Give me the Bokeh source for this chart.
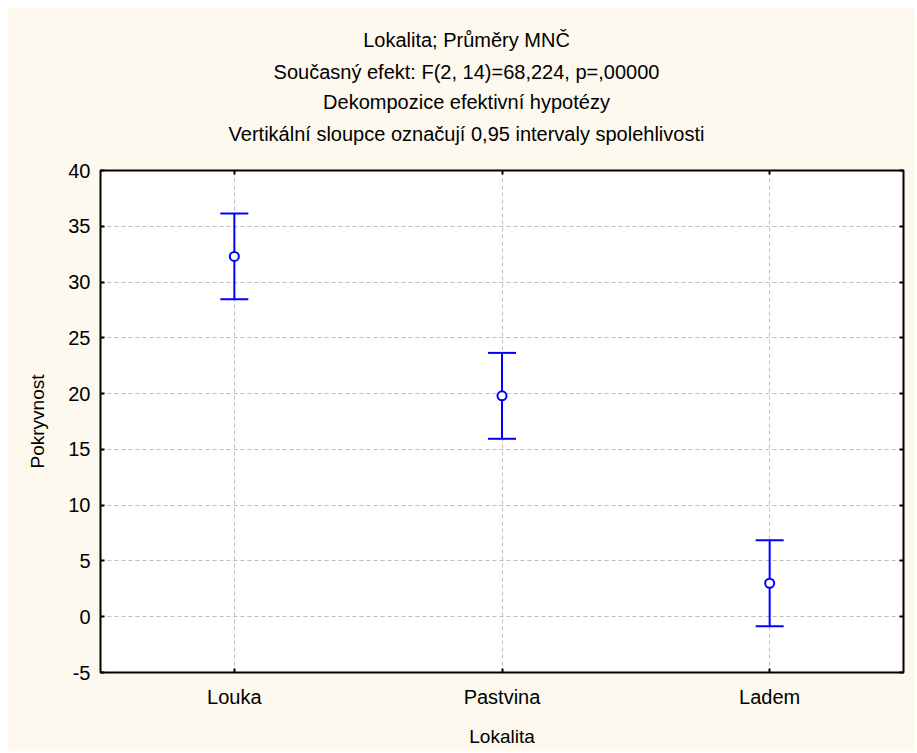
from bokeh.plotting import figure
from bokeh.layouts import column
from bokeh.models import (FactorRange, Range1d, Whisker, ColumnDataSource,
                          LinearAxis, CategoricalAxis, FixedTicker)
from bokeh.core.properties import value
from bokeh.embed import file_html
from bokeh.resources import INLINE

categories = ["Louka", "Pastvina", "Ladem"]
means = [32.3, 19.8, 3.0]
lower = [28.45, 15.95, -0.85]
upper = [36.15, 23.65, 6.85]
y_ticks = [-5, 0, 5, 10, 15, 20, 25, 30, 35, 40]
title_lines = [
    "Lokalita; Průměry MNČ",
    "Současný efekt: F(2, 14)=68,224, p=,00000",
    "Dekompozice efektivní hypotézy",
    "Vertikální sloupce označují 0,95 intervaly spolehlivosti",
]
x_label = "Lokalita"
y_label = "Pokryvnost"

FONT = "Liberation Sans"
BG = "#FDF9EE"
BLUE = "#0000FF"
FW, FH = 803, 502
BL, BR = 92, 12
HEAD_H = 150

# ---- header with the four title lines ----
h = figure(frame_width=FW, frame_height=HEAD_H, x_range=Range1d(0, FW),
           y_range=Range1d(0, HEAD_H), x_axis_type=None, y_axis_type=None,
           min_border_left=BL, min_border_right=BR, min_border_top=0,
           min_border_bottom=0, output_backend="svg", toolbar_location=None,
           background_fill_color=BG, border_fill_color=BG)
h.grid.visible = False
h.outline_line_color = None
title_y = [HEAD_H - 31, HEAD_H - 63, HEAD_H - 93, HEAD_H - 125]
h.text(x=[366] * 4, y=title_y, text=title_lines, text_font=value(FONT),
       text_font_size="20px", text_color="black", text_align="center",
       text_baseline="middle")

# ---- main plot ----
src = ColumnDataSource(dict(cat=categories, mean=means, lo=lower, hi=upper))

p = figure(x_range=FactorRange(*categories, range_padding=0),
           y_range=Range1d(-5, 40),
           frame_width=FW, frame_height=FH,
           min_border_left=BL, min_border_right=BR,
           min_border_top=12, min_border_bottom=79,
           output_backend="svg", toolbar_location=None,
           background_fill_color="white", border_fill_color=BG)
p.outline_line_color = "black"
p.outline_line_width = 2

xax = p.below[0]
yax = p.left[0]

ta = CategoricalAxis(major_label_text_font_size="0px", axis_line_color=None,
                     major_tick_in=4, major_tick_out=0, major_tick_line_width=2,
                     major_label_standoff=0)
p.add_layout(ta, "above")

xax.axis_label = x_label
yax.axis_label = y_label
yax.ticker = FixedTicker(ticks=y_ticks)
yax.major_label_overrides = {t: str(t) for t in y_ticks}
for ax in (xax, yax):
    ax.axis_label_text_font = FONT
    ax.axis_label_text_font_size = "19px"
    ax.axis_label_text_font_style = "normal"
    ax.axis_label_text_color = "black"
    ax.major_label_text_font = FONT
    ax.major_label_text_font_size = "20px"
    ax.major_label_text_color = "black"
    ax.axis_line_color = None
    ax.major_tick_in = 4
    ax.major_tick_out = 0
    ax.major_tick_line_color = "black"
    ax.major_tick_line_width = 2
    ax.minor_tick_line_color = None
xax.major_label_standoff = 13
xax.axis_label_standoff = 15
yax.major_label_standoff = 10
yax.axis_label_standoff = 17

ra = LinearAxis(ticker=FixedTicker(ticks=y_ticks), major_label_text_font_size="0px",
                axis_line_color=None, major_tick_in=4, major_tick_out=0,
                major_tick_line_width=2, minor_tick_line_color=None,
                major_label_standoff=0)
p.add_layout(ra, "right")

p.xgrid.grid_line_color = "#BEBEBE"
p.xgrid.grid_line_dash = "4 3"
p.ygrid.grid_line_color = "#BEBEBE"
p.ygrid.grid_line_dash = "4 3"
p.ygrid.ticker = FixedTicker(ticks=y_ticks)

w = Whisker(source=src, base="cat", lower="lo", upper="hi",
            line_color=BLUE, line_width=2)
w.upper_head.size = 28
w.lower_head.size = 28
w.upper_head.line_color = BLUE
w.lower_head.line_color = BLUE
w.upper_head.line_width = 2
w.lower_head.line_width = 2
p.add_layout(w)

p.scatter("cat", "mean", source=src, marker="circle", size=9,
          fill_color="white", line_color=BLUE, line_width=2)

layout = column(h, p, spacing=0, margin=(8, 0, 0, 8))
layout.styles = {"background-color": BG}

open("out.html", "w").write(file_html(layout, INLINE))
